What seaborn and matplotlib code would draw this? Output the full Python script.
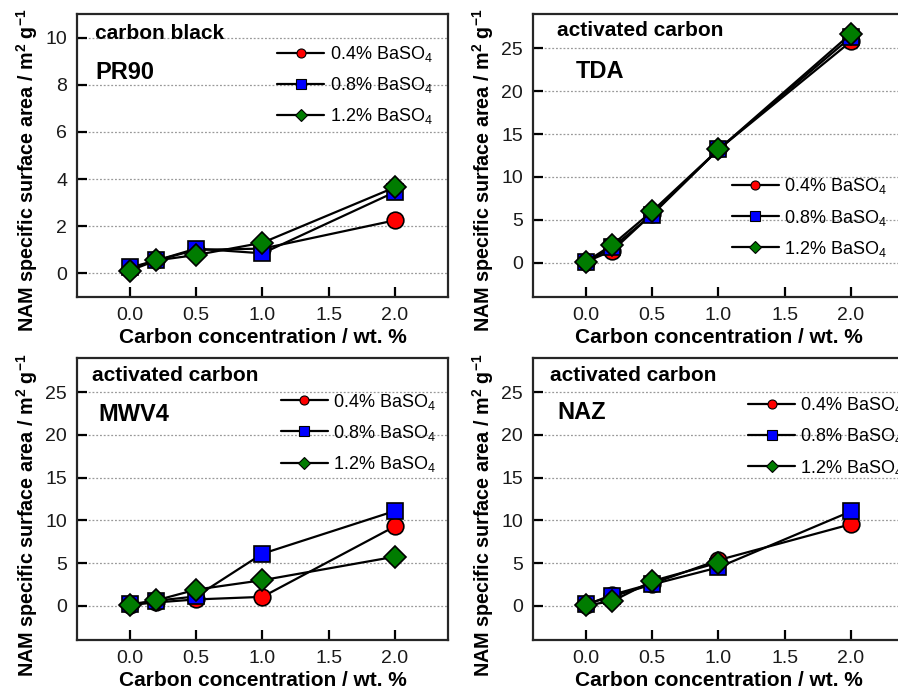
import numpy as np
import pandas as pd
import seaborn as sns
import matplotlib.pyplot as plt
from matplotlib.lines import Line2D

# carbon concentration (wt. %)
conc = [0.0, 0.2, 0.5, 1.0, 2.0]
series_labels = ['0.4% BaSO$_4$', '0.8% BaSO$_4$', '1.2% BaSO$_4$']

# NAM specific surface area, m2/g
pr90_04 = [0.2, 0.55, 1.0, 1.05, 2.25]
pr90_08 = [0.25, 0.55, 1.05, 0.85, 3.45]
pr90_12 = [0.12, 0.55, 0.78, 1.3, 3.65]

tda_04 = [0.1, 1.4, 5.7, 13.2, 25.8]
tda_08 = [0.1, 1.8, 5.6, 13.2, 26.3]
tda_12 = [0.1, 2.1, 6.0, 13.2, 26.7]

mwv4_04 = [0.1, 0.4, 0.75, 1.05, 9.3]
mwv4_08 = [0.2, 0.6, 1.1, 6.1, 11.1]
mwv4_12 = [0.05, 0.65, 1.9, 3.0, 5.75]

naz_04 = [0.1, 1.3, 2.6, 5.35, 9.55]
naz_08 = [0.2, 1.1, 2.5, 4.5, 11.05]
naz_12 = [0.05, 0.55, 2.9, 5.05, np.nan]

markers = ['o', 's', 'D']
sizes = [12, 11, 11]
colors = ['#ff0000', '#0000ff', '#007c00']

sns.set_style('ticks')
plt.rcParams['font.family'] = ['Liberation Sans', 'DejaVu Sans']
plt.rcParams['mathtext.default'] = 'regular'
plt.rcParams['axes.linewidth'] = 1.6
plt.rcParams['text.color'] = 'black'
plt.rcParams['axes.labelcolor'] = 'black'

fig = plt.figure(figsize=(8.98, 6.89), dpi=100)

panels = [
    dict(rect=[0.0857, 0.569, 0.4131, 0.4107], data=[pr90_04, pr90_08, pr90_12],
         ylim=(-1, 11), yticks=np.arange(0, 11, 2), kind='carbon black', name='PR90',
         kpos=(0.049, 0.93), npos=(0.049, 0.793), leg=(0.54, 0.894), ylab_y=0.447),
    dict(rect=[0.5935, 0.569, 0.4131, 0.4107], data=[tda_04, tda_08, tda_12],
         ylim=(-4, 29), yticks=np.arange(0, 26, 5), kind='activated carbon', name='TDA',
         kpos=(0.065, 0.94), npos=(0.116, 0.795), leg=(0.536, 0.426), ylab_y=0.447),
    dict(rect=[0.0857, 0.0711, 0.4131, 0.4093], data=[mwv4_04, mwv4_08, mwv4_12],
         ylim=(-4, 29), yticks=np.arange(0, 26, 5), kind='activated carbon', name='MWV4',
         kpos=(0.04, 0.937), npos=(0.059, 0.8), leg=(0.55, 0.881), ylab_y=0.442),
    dict(rect=[0.5935, 0.0711, 0.4131, 0.4093], data=[naz_04, naz_08, naz_12],
         ylim=(-4, 29), yticks=np.arange(0, 26, 5), kind='activated carbon', name='NAZ',
         kpos=(0.046, 0.937), npos=(0.067, 0.805), leg=(0.58, 0.868), ylab_y=0.442),
]

for p in panels:
    ax = fig.add_axes(p['rect'])
    ax.set_axisbelow(True)
    ax.grid(axis='y', ls=(0, (1.5, 1.5)), color='#999999', lw=0.9)
    for vals, lab, m, ms, c in zip(p['data'], series_labels, markers, sizes, colors):
        df = pd.DataFrame({'conc': conc, 'area': vals}).dropna()
        sns.lineplot(data=df, x='conc', y='area', ax=ax, color='black', lw=1.6,
                     marker=m, markersize=ms, markerfacecolor=c, markeredgecolor='black',
                     markeredgewidth=1.2, legend=False)
    ax.set_xlim(-0.4, 2.4)
    ax.set_ylim(*p['ylim'])
    ax.set_xticks([0.0, 0.5, 1.0, 1.5, 2.0])
    ax.set_xticklabels(['0.0', '0.5', '1.0', '1.5', '2.0'])
    ax.set_yticks(p['yticks'])
    ax.tick_params(direction='in', length=7, width=1.6, labelsize=14,
                   labelcolor='#1a1a1a', pad=7, color='black')
    ax.set_xlabel('Carbon concentration / wt. %', fontsize=15, fontweight='bold', labelpad=3)
    ax.set_ylabel('NAM specific surface area / m$^2$ g$^{-1}$', fontsize=14.2,
                  fontweight='bold')
    ax.yaxis.set_label_coords(-0.10, p['ylab_y'])
    ax.text(*p['kpos'], p['kind'], transform=ax.transAxes, fontsize=15,
            fontweight='bold', va='center', ha='left')
    ax.text(*p['npos'], p['name'], transform=ax.transAxes, fontsize=17,
            fontweight='bold', va='center', ha='left')
    handles = [Line2D([], [], color='black', lw=1.6, marker=m, ms=6.5, mfc=c,
                      mec='black', mew=0.8) for m, c in zip(markers, colors)]
    ax.legend(handles, series_labels, loc='upper left', bbox_to_anchor=p['leg'],
              frameon=False, fontsize=13, handlelength=2.6, handletextpad=0.3,
              labelspacing=0.62, borderpad=0, borderaxespad=0)

fig.savefig('out.png', dpi=100)
